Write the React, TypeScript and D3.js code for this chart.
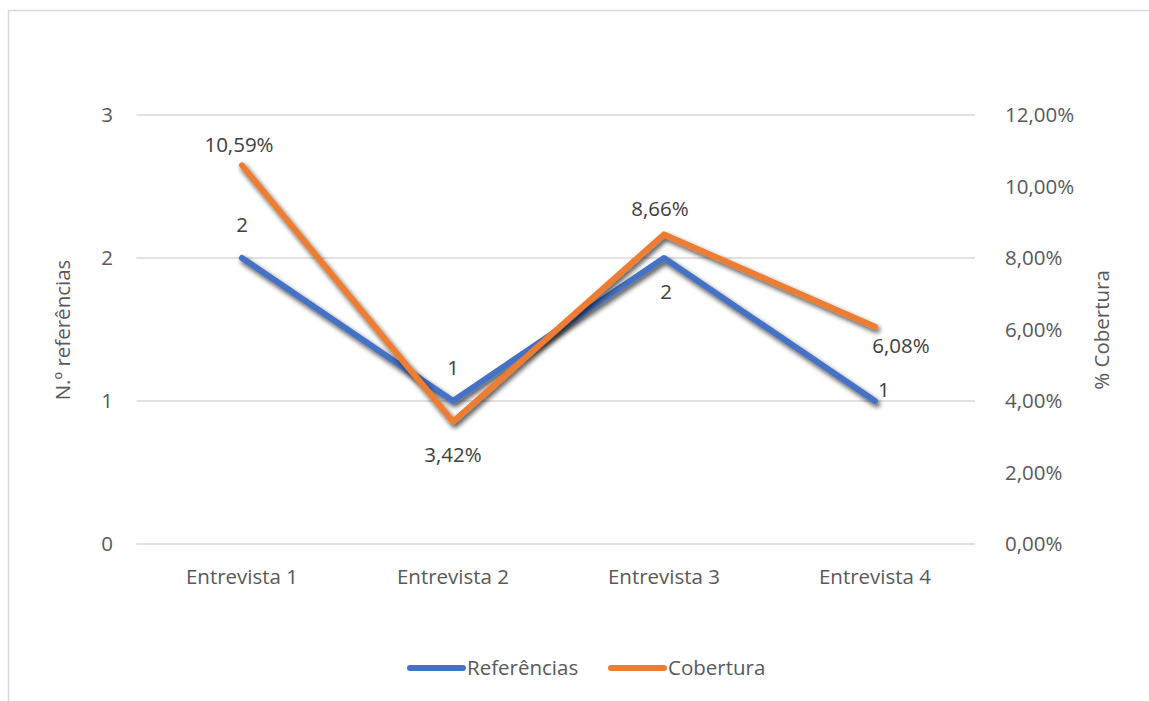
import React from "react";
import * as d3 from "d3";

const categories = ["Entrevista 1", "Entrevista 2", "Entrevista 3", "Entrevista 4"];
const referencias = [2, 1, 2, 1];
const cobertura = [10.59, 3.42, 8.66, 6.08];
const leftTicks = [0, 1, 2, 3];
const rightTicks = [0, 2, 4, 6, 8, 10, 12];

const W = 1149;
const H = 701;
const FONT = "'Open Sans', sans-serif";
const BLUE = "#4472C4";
const ORANGE = "#ED7D31";
const TXT = "#595959";
const FS = 20.5;

export default function App() {
  const x = d3.scaleBand<string>().domain(categories).range([136.5, 980.5]);
  const yL = d3.scaleLinear().domain([0, 3]).range([544, 115]);
  const yR = d3.scaleLinear().domain([0, 12]).range([544, 115]);
  const cx = (c: string) => (x(c) as number) + x.bandwidth() / 2;

  const blueLine = d3
    .line<number>()
    .x((_, i) => cx(categories[i]))
    .y((d) => yL(d))(referencias) as string;
  const orangeLine = d3
    .line<number>()
    .x((_, i) => cx(categories[i]))
    .y((d) => yR(d))(cobertura) as string;

  const fmtPct = (v: number) => v.toFixed(2).replace(".", ",") + "%";

  const blueLabelPos: [number, number, string][] = [
    [0, -33, "middle"],
    [0, -33, "middle"],
    [2, 34, "middle"],
    [3, -11, "start"],
  ];
  const orangeLabelPos: [number, number, string][] = [
    [-3, -21, "middle"],
    [0, 33, "middle"],
    [-4, -26, "middle"],
    [26, 19, "middle"],
  ];

  return (
    <svg
      width={W}
      height={H}
      style={{ position: "absolute", left: 0, top: 0, background: "#fff" }}
      fontFamily={FONT}
    >
      <defs>
        <filter id="sh" x="-20%" y="-20%" width="140%" height="140%">
          <feGaussianBlur in="SourceAlpha" stdDeviation="2.8" />
          <feOffset dx="2" dy="3" result="b" />
          <feComponentTransfer>
            <feFuncA type="linear" slope="0.7" />
          </feComponentTransfer>
          <feMerge>
            <feMergeNode />
            <feMergeNode in="SourceGraphic" />
          </feMerge>
        </filter>
      </defs>
      <rect x={8.5} y={10.5} width={W + 10} height={H + 10} fill="#fff" stroke="#d9d9d9" strokeWidth={1.5} />

      {leftTicks.map((t) => (
        <g key={"l" + t}>
          <line x1={136.5} x2={975} y1={yL(t)} y2={yL(t)} stroke="#d9d9d9" strokeWidth={1.5} />
          <text x={113} y={yL(t)} dy="0.35em" textAnchor="end" fontSize={FS} fill={TXT}>
            {t}
          </text>
        </g>
      ))}
      {rightTicks.map((t) => (
        <text key={"r" + t} x={1005} y={yR(t)} dy="0.35em" textAnchor="start" fontSize={FS} fill={TXT}>
          {fmtPct(t)}
        </text>
      ))}
      {categories.map((c) => (
        <text key={c} x={cx(c)} y={577} dy="0.35em" textAnchor="middle" fontSize={FS} fill={TXT}>
          {c}
        </text>
      ))}

      <text transform={`translate(63,330) rotate(-90)`} textAnchor="middle" dy="0.35em" fontSize={FS} fill={TXT}>
        N.º referências
      </text>
      <text transform={`translate(1102,330) rotate(-90)`} textAnchor="middle" dy="0.35em" fontSize={FS} fill={TXT}>
        % Cobertura
      </text>

      <path d={blueLine} fill="none" stroke={BLUE} strokeWidth={6} strokeLinecap="round" strokeLinejoin="round" filter="url(#sh)" />
      <path d={orangeLine} fill="none" stroke={ORANGE} strokeWidth={6} strokeLinecap="round" strokeLinejoin="round" filter="url(#sh)" />

      {referencias.map((v, i) => (
        <text
          key={"bl" + i}
          x={cx(categories[i]) + blueLabelPos[i][0]}
          y={yL(v) + blueLabelPos[i][1]}
          dy="0.35em"
          textAnchor={blueLabelPos[i][2] as any}
          fontSize={FS}
          fill="#404040"
        >
          {v}
        </text>
      ))}
      {cobertura.map((v, i) => (
        <text
          key={"ol" + i}
          x={cx(categories[i]) + orangeLabelPos[i][0]}
          y={yR(v) + orangeLabelPos[i][1]}
          dy="0.35em"
          textAnchor={orangeLabelPos[i][2] as any}
          fontSize={FS}
          fill="#404040"
        >
          {fmtPct(v)}
        </text>
      ))}

      <line x1={410} x2={463} y1={668} y2={668} stroke={BLUE} strokeWidth={6} strokeLinecap="round" />
      <text x={467} y={668} dy="0.35em" fontSize={FS} fill={TXT}>
        Referências
      </text>
      <line x1={611} x2={664} y1={668} y2={668} stroke={ORANGE} strokeWidth={6} strokeLinecap="round" />
      <text x={668} y={668} dy="0.35em" fontSize={FS} fill={TXT}>
        Cobertura
      </text>
    </svg>
  );
}
